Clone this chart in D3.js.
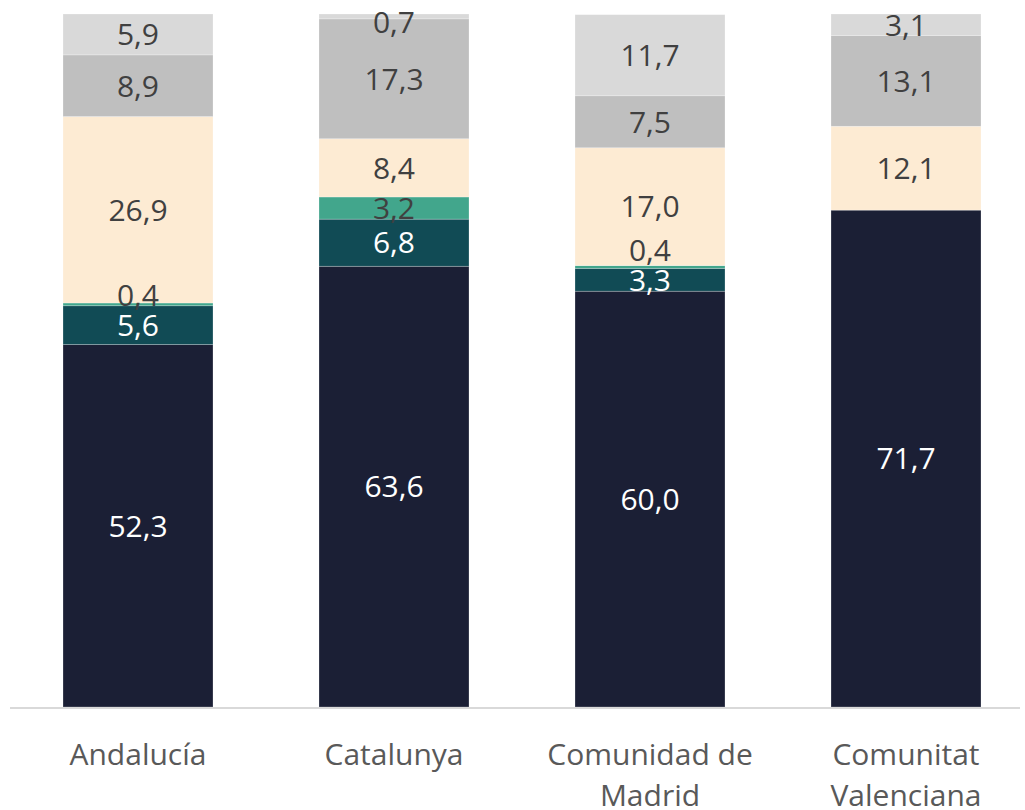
<!DOCTYPE html>
<html>
<head>
<meta charset="utf-8">
<script src="https://cdn.jsdelivr.net/npm/d3@7"></script>
<style>
  body { margin: 0; background: #fff; }
  svg text { font-family: "Open Sans", "Noto Sans", sans-serif; }
</style>
</head>
<body>
<div id="chart"></div>
<script>
const regions = ['Andalucía', 'Catalunya', 'Comunidad de Madrid', 'Comunitat Valenciana']
const regionLines = [['Andalucía'], ['Catalunya'], ['Comunidad de', 'Madrid'], ['Comunitat', 'Valenciana']]

// stack order, bottom to top
const serie1 = [52.3, 63.6, 60.0, 71.7]
const serie2 = [5.6, 6.8, 3.3, 0]
const serie3 = [0.4, 3.2, 0.4, 0]
const serie4 = [26.9, 8.4, 17.0, 12.1]
const serie5 = [8.9, 17.3, 7.5, 13.1]
const serie6 = [5.9, 0.7, 11.7, 3.1]

const series = [serie1, serie2, serie3, serie4, serie5, serie6]
const colors = ['#1b1f35', '#114b55', '#42a68c', '#fdebd3', '#bfbfbf', '#d9d9d9']
const labelColors = ['#ffffff', '#ffffff', '#404040', '#404040', '#404040', '#404040']

const width = 1025, height = 810
const margin = { top: 14, right: 5, bottom: 103, left: 10 }

const svg = d3.select('#chart')
  .append('svg')
  .attr('width', width)
  .attr('height', height)

// step 256px, bar 150px
const x = d3.scaleBand()
  .domain(regions)
  .range([10, 1034])
  .paddingInner(106 / 256)
  .paddingOuter(53 / 256)

const y = d3.scaleLinear()
  .domain([0, 100])
  .range([height - margin.bottom, margin.top])

const table = regions.map((r, i) => {
  const row = { region: r }
  series.forEach((s, k) => row['s' + k] = s[i])
  return row
})
const keys = series.map((s, k) => 's' + k)
const stacked = d3.stack().keys(keys)(table)

const layers = svg.append('g')
  .selectAll('g')
  .data(stacked)
  .join('g')
  .attr('fill', (d, k) => colors[k])

layers.selectAll('rect')
  .data(d => d)
  .join('rect')
  .attr('x', d => x(d.data.region))
  .attr('width', x.bandwidth())
  .attr('y', d => y(d[1]))
  .attr('height', d => y(d[0]) - y(d[1]))
  .attr('stroke', 'rgba(255,255,255,0.35)')
  .attr('stroke-width', 0.7)

// axis line
svg.append('line')
  .attr('x1', margin.left)
  .attr('x2', width - margin.right)
  .attr('y1', y(0) + 1)
  .attr('y2', y(0) + 1)
  .attr('stroke', '#d9d9d9')
  .attr('stroke-width', 2)

// data labels, pushed apart from the bottom up when they collide
const labels = []
regions.forEach((r, i) => {
  let prev = null
  stacked.forEach((layer, k) => {
    const v = series[k][i]
    if (!v) return
    let cy = (y(layer[i][0]) + y(layer[i][1])) / 2
    if (prev !== null && prev - cy < 30) cy = prev - 30
    cy = Math.max(cy, margin.top + 8)
    prev = cy
    labels.push({ region: r, k, v, cy })
  })
})

svg.append('g')
  .selectAll('text')
  .data(labels)
  .join('text')
  .attr('x', d => x(d.region) + x.bandwidth() / 2)
  .attr('y', d => d.cy)
  .attr('dy', '0.36em')
  .attr('text-anchor', 'middle')
  .attr('font-size', 30)
  .attr('fill', d => labelColors[d.k])
  .text(d => d3.format('.1f')(d.v).replace('.', ','))

// category labels
const cat = svg.append('g')
  .selectAll('text')
  .data(regions)
  .join('text')
  .attr('x', d => x(d) + x.bandwidth() / 2)
  .attr('y', 765)
  .attr('text-anchor', 'middle')
  .attr('font-size', 30)
  .attr('fill', '#595959')

cat.selectAll('tspan')
  .data((d, i) => regionLines[i])
  .join('tspan')
  .attr('x', function () { return d3.select(this.parentNode).attr('x') })
  .attr('dy', (d, j) => j === 0 ? 0 : 41)
  .text(d => d)
</script>
</body>
</html>
